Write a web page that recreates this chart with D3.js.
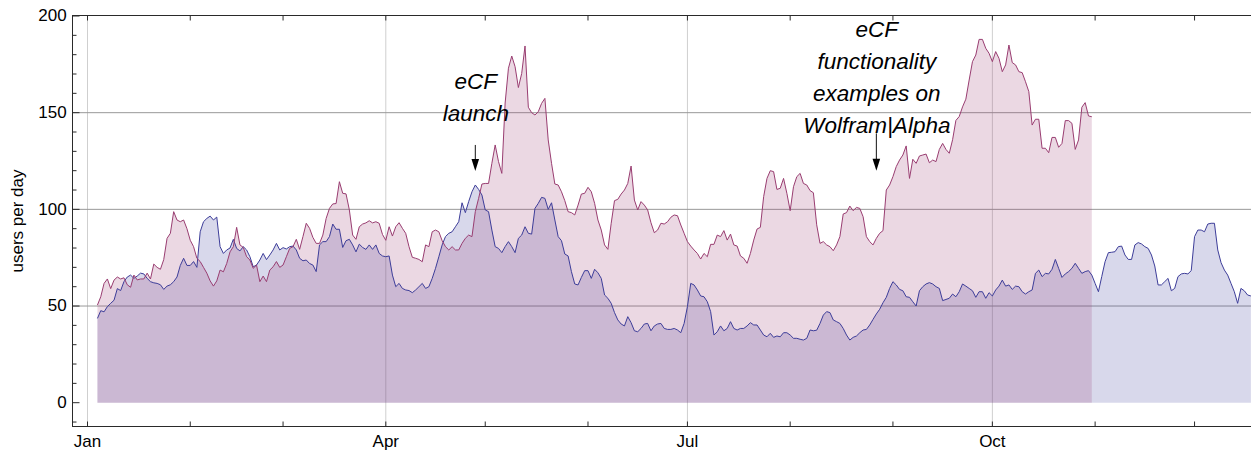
<!DOCTYPE html>
<html>
<head>
<meta charset="utf-8">
<script src="https://cdn.jsdelivr.net/npm/d3@7"></script>
<style>
  html, body { margin: 0; padding: 0; background: #ffffff; }
  svg { display: block; }
  text { font-family: "Liberation Sans", Arial, Helvetica, sans-serif; }
</style>
</head>
<body>
<svg id="chart" width="1251" height="451"></svg>
<script>
// ---------------- data (daily users, starting Jan 4) ----------------
const seriesStart = "2010-01-04";

// red / maroon series: Jan 4 .. Oct 31
const redValues = [
  50.5, 54.8, 61.7, 64, 59, 63.4, 65, 64, 64.6, 61,
  59.7, 66, 63.5, 64, 64, 67, 64, 71.7, 70, 69,
  74, 85, 87.6, 98.8, 94.5, 93.6, 94.5, 90, 84, 80.7,
  74.7, 73, 70, 67, 63, 60.3, 63, 68.6, 67.7, 72,
  78, 80.7, 90.7, 81.6, 80.3, 75.5, 73.8, 69.5, 71.2, 62.6,
  65.5, 62.6, 68.6, 70.3, 73, 70, 71.2, 75.5, 79.8, 80.7,
  84.5, 79.3, 85.9, 92.8, 90.2, 85.5, 82.4, 82.4, 86.7, 95.3,
  100.5, 102.8, 103, 114.3, 108.3, 108, 99.7, 86.7, 84.5, 91,
  92.4, 93, 94.1, 93, 93.6, 92.8, 87, 84, 91, 86.2,
  91, 93.1, 90.2, 87.6, 80.7, 75.2, 74.7, 74.1, 72.9, 81.6,
  80.7, 88.4, 89.3, 88.4, 83.8, 80.7, 79, 80.7, 79, 79,
  82.4, 85, 86.7, 85.9, 98.8, 105.7, 113.1, 113.4, 113.4, 123.8,
  133.3, 124.7, 118.6, 155, 173, 179.3, 173.8, 163, 170.3, 184.5,
  152.8, 150, 148.8, 150.5, 154.8, 157.4, 135.9, 123.8, 113.1, 112.6,
  109.1, 104.5, 98.8, 98.3, 97.1, 102.2, 107.9, 108.3, 111.4, 109.1,
  103.1, 94.5, 89.3, 81.6, 79.3, 92.8, 104.5, 105.2, 107.9, 110,
  113.4, 122.4, 104.8, 99.7, 104, 102.2, 99.7, 93.1, 87.9, 89.3,
  92.8, 92.4, 93.6, 95.9, 97.1, 96.7, 91.9, 87.6, 83.3, 81,
  79, 77.2, 74.3, 77.2, 75.5, 81.9, 81.9, 86.7, 85.9, 89,
  84.1, 87.2, 81.6, 81, 75.9, 74.7, 72.1, 77.2, 84.1, 89.8,
  90.7, 106.6, 116, 120, 119.5, 110.3, 110.9, 116, 108.3, 99.3,
  111.7, 116.9, 118.6, 113.4, 112.6, 109.7, 108.6, 92, 82.4, 83.3,
  81.6, 80.7, 78.6, 81.6, 85.9, 97.6, 98.3, 101.7, 99.3, 101,
  100.5, 96.2, 85.9, 83.3, 81.6, 85, 87.6, 89, 110, 112.6,
  116.9, 122.1, 125.5, 128.1, 132.8, 116, 125.9, 123.8, 127.6, 128.1,
  128.6, 124.1, 125.5, 124.7, 131, 134.1, 131, 129, 136, 146,
  148, 153, 157, 166.9, 176.4, 179.8, 187.9, 187.9, 183.3, 180.7,
  176.4, 181.6, 178.1, 171.2, 174.7, 185, 175.9, 174.7, 171.2, 170.7,
  166, 160.9, 143.6, 146.6, 146.6, 131.6, 131.6, 129.3, 137.2, 137.2,
  132.1, 134.1, 145.9, 145.9, 144.5, 131, 135.9, 152.8, 155.2, 148.3, 147.9
];

// blue series: Jan 4 .. Dec 18 (visible part)
const blueValues = [
  43.6, 47.6, 47, 49.7, 51.4, 53, 59, 58, 62.6, 65,
  66, 64.3, 65.5, 67, 66.6, 64.3, 62.6, 62, 61.7, 61,
  58.6, 60.3, 61, 62.6, 65, 71, 74.7, 71, 71, 73,
  70, 88.4, 93.6, 95.3, 96.5, 94.5, 96, 80.7, 77.2, 79,
  80, 84.5, 79.8, 78.5, 80.7, 79, 75.5, 70.3, 71.2, 73.8,
  77.2, 74, 76.4, 79, 82.4, 79, 80.2, 79.5, 80.7, 81,
  79, 74.7, 73.4, 73.8, 72, 71.2, 67.8, 81.6, 83.3, 83.3,
  85.9, 92.4, 89.7, 89.7, 80.3, 83.8, 84.5, 81.6, 78, 82,
  80.3, 79.3, 81.6, 79.3, 81.6, 77.2, 75.9, 75.5, 75.9, 66,
  60, 61.7, 59.1, 58.3, 58, 56.9, 58.3, 60, 61.7, 59.1,
  60, 64.3, 69.5, 75.5, 81.6, 85.9, 87.6, 88.4, 91, 93.6,
  103.4, 98.3, 104, 109.1, 112.6, 110.3, 107.4, 99.7, 98.8, 89.3,
  80.7, 79.8, 77.6, 80.7, 83.3, 80.7, 77.6, 85, 86.7, 91,
  87.6, 87.2, 100.5, 103.1, 106.2, 105.7, 100, 103.4, 94.5, 85.9,
  83.8, 76.9, 75.9, 67.8, 61.4, 60.9, 64.8, 68.3, 68.3, 64.3,
  69, 67.2, 64.3, 55.7, 54, 51.4, 46.6, 42.8, 40.7, 39.7,
  44.5, 41.4, 37.2, 36.7, 38.4, 40.7, 41, 37.2, 39.7, 40.7,
  41, 38.4, 37.9, 37.9, 38.4, 37.6, 36.2, 41, 49.7, 61.7,
  60.9, 58.3, 55.2, 54.8, 52.2, 47.1, 35, 36.7, 39.7, 37.2,
  38.4, 41.9, 38.4, 37.6, 38.4, 38.4, 39.7, 41.4, 40.2, 40.2,
  37.6, 35, 34.1, 35.9, 33.8, 34.5, 34.1, 36.2, 36.2, 35,
  33.3, 33.3, 32.8, 32.4, 33.3, 37.6, 37.2, 37.5, 41, 45.3,
  47.1, 46.6, 42.8, 41.9, 41, 38.4, 35, 32.4, 33.8, 34.5,
  36.2, 37.6, 37.9, 40.2, 43.1, 45.9, 48.3, 51.7, 54.5, 59.1,
  62.6, 60.9, 58.6, 57.9, 54.8, 54.5, 52.2, 50, 57.9, 60,
  61.4, 62.1, 61.4, 60, 59.1, 52.8, 53.4, 54, 56.2, 54.8,
  57.4, 61.4, 60.3, 59.1, 57.9, 54.5, 57.4, 57.4, 54, 56.9,
  55.2, 58.3, 60.3, 63.4, 60.3, 60.9, 58.6, 60.3, 60, 57.4,
  56.2, 57.4, 58.3, 66.9, 68.6, 65.2, 66.9, 66.6, 69, 74.1,
  69.5, 64.8, 66.6, 67.8, 69.5, 72.1, 69.5, 66.9, 67.8, 68.3,
  66, 61.7, 57.4, 65.2, 72.9, 77.6, 77.8, 78.1, 80.7, 81,
  76.4, 74.1, 74.1, 81.6, 82.8, 82.1, 80.7, 79.8, 76.4, 70.7,
  60.9, 60.9, 62.6, 64.3, 57.9, 59.1, 65.2, 66.6, 66.9, 66.6,
  68.3, 85.9, 89.3, 89.3, 88.4, 92.4, 92.8, 92.8, 79, 72.4,
  68.6, 66, 61.7, 57.4, 51.4, 59.1, 57.9, 55.7, 55.2
];

const yMajorTicks = [0, 50, 100, 150, 200];
const yMinorTicks = [-10, 10, 20, 30, 40, 60, 70, 80, 90, 110, 120, 130, 140, 160, 170, 180, 190];
const yGridValues = [50, 100, 150];
const monthLabels = ["Jan", "", "", "Apr", "", "", "Jul", "", "", "Oct", "", ""];
const xGridMonths = ["2010-01-01", "2010-04-01", "2010-07-01", "2010-10-01"];
const yAxisTitle = "users per day";

const annotations = [
  { date: "2010-04-28", lines: ["eCF", "launch"], firstBaseline: 162.1, arrowFrom: 133.3, arrowTo: 119.8 },
  { date: "2010-08-27", lines: ["eCF", "functionality", "examples on", "Wolfram|Alpha"], firstBaseline: 189.3, arrowFrom: 139.3, arrowTo: 120 }
];

// ---------------- layout ----------------
const parse = d3.utcParse("%Y-%m-%d");
const start = parse(seriesStart);
const toPoints = vals => vals.map((v, i) => ({ date: d3.utcDay.offset(start, i), value: v }));
const blue = toPoints(blueValues);
const red = toPoints(redValues);

const frame = { left: 72.5, top: 15.5, bottom: 426.5, right: 1330 };
const x = d3.scaleUtc()
  .domain([parse("2010-01-01"), parse("2011-01-01")])
  .range([87.5, 1297.3]);
const y = d3.scaleLinear()
  .domain([-12.31, 200.26])
  .range([frame.bottom, frame.top]);

const colors = { blue: "#3d3d99", red: "#993d71" };
const svg = d3.select("#chart");

// gridlines
svg.append("g").selectAll("line").data(xGridMonths).join("line")
  .attr("x1", d => x(parse(d))).attr("x2", d => x(parse(d)))
  .attr("y1", frame.top).attr("y2", frame.bottom)
  .attr("stroke", "#cfcfcf").attr("stroke-width", 1);
svg.append("g").selectAll("line").data(yGridValues).join("line")
  .attr("x1", frame.left).attr("x2", frame.right)
  .attr("y1", d => y(d)).attr("y2", d => y(d))
  .attr("stroke", "#999999").attr("stroke-width", 1);

// fills and lines
const area = d3.area().x(d => x(d.date)).y0(y(0)).y1(d => y(d.value));
const line = d3.line().x(d => x(d.date)).y(d => y(d.value));

[[blue, colors.blue], [red, colors.red]].forEach(([data, c]) => {
  svg.append("path").datum(data).attr("d", area)
    .attr("fill", c).attr("fill-opacity", 0.2).attr("stroke", "none");
});
[[blue, colors.blue], [red, colors.red]].forEach(([data, c]) => {
  svg.append("path").datum(data).attr("d", line)
    .attr("fill", "none").attr("stroke", c).attr("stroke-width", 1)
    .attr("stroke-linejoin", "round");
});

// frame
svg.append("rect")
  .attr("x", frame.left).attr("y", frame.top)
  .attr("width", frame.right - frame.left).attr("height", frame.bottom - frame.top)
  .attr("fill", "none").attr("stroke", "#2a2a2a").attr("stroke-width", 1);

// axes
const months = d3.utcMonth.range(parse("2010-01-01"), parse("2011-01-01"));
const fontSize = 17;

function styleAxis(g) {
  g.select(".domain").remove();
  g.selectAll(".tick line").attr("stroke", "#2a2a2a");
  g.selectAll(".tick text").attr("fill", "#000000")
    .attr("font-size", fontSize)
    .attr("font-family", '"Liberation Sans", Arial, Helvetica, sans-serif');
}

svg.append("g")
  .attr("transform", `translate(0,${frame.bottom})`)
  .call(d3.axisBottom(x).tickValues(months).tickSize(-5).tickSizeOuter(0)
    .tickPadding(8.5).offset(0)
    .tickFormat(d => monthLabels[d.getUTCMonth()]))
  .call(styleAxis);

svg.append("g")
  .attr("transform", `translate(0,${frame.top})`)
  .call(d3.axisTop(x).tickValues(months).tickSize(-5).tickSizeOuter(0)
    .offset(0).tickFormat(() => ""))
  .call(styleAxis);

svg.append("g")
  .attr("transform", `translate(${frame.left},0)`)
  .call(d3.axisLeft(y).tickValues(yMajorTicks).tickSize(-7).tickSizeOuter(0)
    .tickPadding(5.8).offset(0).tickFormat(d3.format("d")))
  .call(styleAxis);

svg.append("g")
  .attr("transform", `translate(${frame.left},0)`)
  .call(d3.axisLeft(y).tickValues(yMinorTicks).tickSize(-4).tickSizeOuter(0)
    .offset(0).tickFormat(() => ""))
  .call(styleAxis);

// y-axis title
svg.append("text")
  .attr("transform", `translate(23.3,${(frame.top + frame.bottom) / 2})rotate(-90)`)
  .attr("text-anchor", "middle")
  .attr("font-size", fontSize)
  .attr("fill", "#000")
  .text(yAxisTitle);

// annotations
const lineStep = 32;
const annG = svg.append("g");
annotations.forEach(a => {
  const ax = x(parse(a.date));
  const g = annG.append("g");
  const t = g.append("text")
    .attr("x", ax + 0.5)
    .attr("y", y(a.firstBaseline))
    .attr("text-anchor", "middle")
    .attr("font-size", 22.5)
    .attr("font-style", "italic")
    .attr("fill", "#000");
  a.lines.forEach((s, i) => {
    t.append("tspan").attr("x", ax + 0.5).attr("y", y(a.firstBaseline) + i * lineStep).text(s);
  });
  const y1 = y(a.arrowFrom), y2 = y(a.arrowTo);
  const headLen = 12, headHalf = 3.8;
  g.append("line")
    .attr("x1", ax).attr("x2", ax)
    .attr("y1", y1).attr("y2", y2 - headLen + 2)
    .attr("stroke", "#111").attr("stroke-width", 1);
  g.append("path")
    .attr("d", `M${ax},${y2} L${ax - headHalf},${y2 - headLen} L${ax + headHalf},${y2 - headLen} Z`)
    .attr("fill", "#000");
});
</script>
</body>
</html>
